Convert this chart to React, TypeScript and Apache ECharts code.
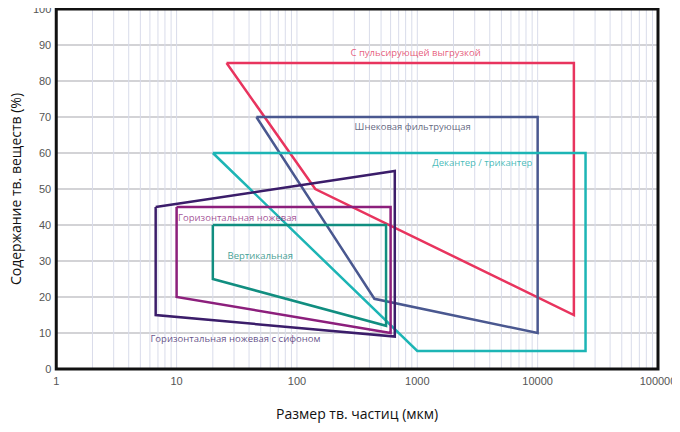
import React, { useEffect, useRef } from "react";
import * as echarts from "echarts";

const pulsing: [number, number][] = [[26, 85], [20000, 85], [20000, 15], [142, 50], [26, 85]];
const screw: [number, number][] = [[46, 70], [10000, 70], [10000, 10], [440, 19.5], [46, 70]];
const decanter: [number, number][] = [[20, 60], [25000, 60], [25000, 5], [1000, 5], [20, 60]];
const vertical: [number, number][] = [[20, 40], [550, 40], [550, 12], [20, 25], [20, 40]];
const horizontal: [number, number][] = [[10, 45], [600, 45], [600, 10], [10, 20], [10, 45]];
const siphon: [number, number][] = [[6.7, 45], [650, 55], [650, 9], [6.7, 15], [6.7, 45]];

const seriesNames = [
  "С пульсирующей выгрузкой",
  "Шнековая фильтрующая",
  "Декантер / трикантер",
  "Вертикальная",
  "Горизонтальная ножевая",
  "Горизонтальная ножевая с сифоном",
];
const seriesColors = ["#e8345e", "#4a5890", "#1db5b5", "#118e80", "#8c1f7c", "#3b1d6a"];
const labelColors = ["#e0305a", "#3a4060", "#14aaa8", "#0f8878", "#8c1f7c", "#3b1d6a"];
const labelPositions: [number, number][] = [
  [968, 87.8],
  [915, 67.5],
  [3470, 57.5],
  [49.6, 31.4],
  [32, 42.2],
  [30.8, 8.6],
];
const decades = [1, 10, 100, 1000, 10000];

export default function App() {
  const ref = useRef<HTMLDivElement>(null);
  useEffect(() => {
    if (!ref.current) return;
    const chart = echarts.init(ref.current, null, { renderer: "svg" });
    const polys = [pulsing, screw, decanter, vertical, horizontal, siphon];
    const gridData: any[] = [];
    decades.forEach((d) => {
      for (let k = 1; k <= 9; k++) {
        const v = d * k;
        if (v > 1) {
          gridData.push([v, 0], [v, 100], "-");
        }
      }
    });
    const series: any[] = [
      {
        type: "line",
        data: gridData,
        silent: true,
        symbol: "none",
        connectNulls: false,
        lineStyle: { color: "#d9dcea", width: 1 },
        z: 1,
      },
    ];
    polys.forEach((p, i) => {
      series.push({
        type: "line",
        name: seriesNames[i],
        data: p,
        symbol: "none",
        lineStyle: { color: seriesColors[i], width: 2.5, join: "miter" },
        z: 3,
      });
    });
    series.push({
      type: "scatter",
      symbolSize: 0,
      data: labelPositions.map((p, i) => ({
        value: p,
        name: seriesNames[i],
        label: { color: labelColors[i] },
      })),
      label: {
        show: true,
        position: "inside",
        formatter: (prm: any) => prm.name,
        fontFamily: "Open Sans",
        fontSize: 9.5,
      },
      z: 5,
    });
    chart.setOption({
      animation: false,
      backgroundColor: "#fff",
      grid: {
        left: 53,
        right: 22,
        top: 9,
        bottom: 63,
        show: true,
        borderColor: "#111",
        borderWidth: 3,
        z: 10,
      },
      xAxis: {
        type: "log",
        logBase: 10,
        min: 1,
        max: 100000,
        name: "Размер тв. частиц (мкм)",
        nameLocation: "middle",
        nameGap: 37,
        nameTextStyle: { fontFamily: "Open Sans", fontSize: 14, color: "#111" },
        axisLine: { show: false },
        axisTick: { show: false },
        axisLabel: {
          fontFamily: "Arial",
          fontSize: 11,
          color: "#555",
          margin: 6,
          formatter: (v: number) => String(Math.round(v)),
        },
        splitLine: { show: false },
      },
      yAxis: {
        type: "value",
        min: 0,
        max: 100,
        interval: 10,
        name: "Содержание тв. веществ (%)",
        nameLocation: "middle",
        nameGap: 33,
        nameTextStyle: { fontFamily: "Open Sans", fontSize: 14, color: "#111" },
        axisLine: { show: false },
        axisTick: { show: false },
        axisLabel: { fontFamily: "Arial", fontSize: 11, color: "#555", margin: 5 },
        splitLine: { show: true, lineStyle: { color: "#c4c4c8", width: 1.5 } },
      },
      series,
    });
    return () => chart.dispose();
  }, []);
  return <div ref={ref} style={{ width: 680, height: 432, marginLeft: -8, marginTop: -8 }} />;
}
